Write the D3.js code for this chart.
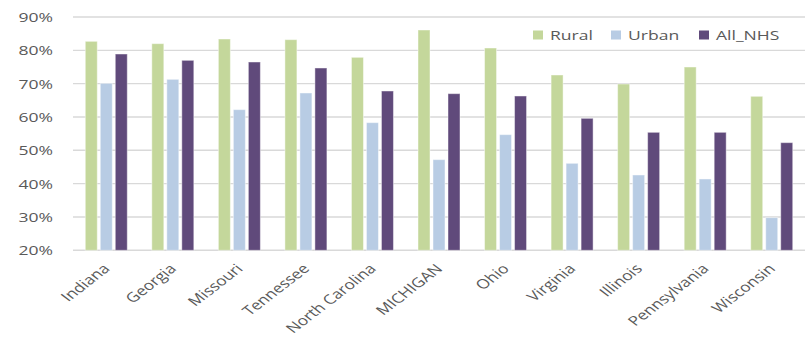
<!DOCTYPE html>
<html>
<head>
<meta charset="utf-8">
<script src="https://cdnjs.cloudflare.com/ajax/libs/d3/7.8.5/d3.min.js"></script>
<style>
  html, body { margin: 0; padding: 0; background: #fff; }
  svg { display: block; }
  text { font-family: "Open Sans", "Noto Sans", sans-serif; fill: #595959; }
</style>
</head>
<body>
<svg id="chart" width="809" height="341"></svg>
<script>
// States, in display order
const states = ["Indiana", "Georgia", "Missouri", "Tennessee", "North Carolina",
  "MICHIGAN", "Ohio", "Virginia", "Illinois", "Pennsylvania", "Wisconsin"];

// Share of each group, per state
const rural  = [0.827, 0.820, 0.834, 0.832, 0.779, 0.861, 0.807, 0.726, 0.699, 0.750, 0.662];
const urban  = [0.701, 0.713, 0.622, 0.672, 0.583, 0.472, 0.547, 0.461, 0.426, 0.414, 0.298];
const allNhs = [0.789, 0.770, 0.765, 0.747, 0.678, 0.670, 0.663, 0.596, 0.554, 0.554, 0.523];

const seriesNames = ["Rural", "Urban", "All_NHS"];
const seriesValues = [rural, urban, allNhs];
const seriesColors = ["#c4d79b", "#b8cce4", "#604a7b"];

const yTicks = [0.2, 0.3, 0.4, 0.5, 0.6, 0.7, 0.8, 0.9];

const svg = d3.select("#chart");
const plot = { left: 73, right: 805, top: 17, bottom: 250.3 };
const sx = 1.3; // horizontal text stretch

const x = d3.scaleBand().domain(states).range([plot.left, plot.right]).padding(0);
const inner = d3.scaleBand().domain(seriesNames).range([0, 42]).paddingInner(0.2);
const y = d3.scaleLinear().domain([0.2, 0.9]).range([plot.bottom, plot.top]);

// Horizontal gridlines
svg.append("g").selectAll("line")
  .data(yTicks)
  .join("line")
  .attr("x1", plot.left).attr("x2", plot.right)
  .attr("y1", d => y(d)).attr("y2", d => y(d))
  .attr("stroke", "#d9d9d9").attr("stroke-width", 1.4);

// Y tick labels
svg.append("g").selectAll("text")
  .data(yTicks)
  .join("text")
  .attr("transform", d => `translate(53,${y(d)}) scale(${sx},1)`)
  .attr("text-anchor", "end")
  .attr("dy", "0.36em")
  .style("font-size", "13.5px")
  .text(d3.format(".0%"));

// Bars
const rows = [];
states.forEach((s, i) => {
  seriesNames.forEach((n, j) => rows.push({ state: s, series: n, value: seriesValues[j][i], color: seriesColors[j] }));
});

svg.append("g").selectAll("rect")
  .data(rows)
  .join("rect")
  .attr("x", d => x(d.state) + x.bandwidth() / 2 - 21 + inner(d.series))
  .attr("width", inner.bandwidth())
  .attr("y", d => y(d.value))
  .attr("height", d => y(0.2) - y(d.value))
  .attr("fill", d => d.color)
  .attr("stroke", "rgba(255,255,255,0.45)")
  .attr("stroke-width", 1);

// Category labels, rotated
svg.append("g").selectAll("text")
  .data(states)
  .join("text")
  .attr("transform", d => `translate(${x(d) + x.bandwidth() / 2 - 4},${263}) scale(${sx},1) rotate(-45)`)
  .attr("text-anchor", "end")
  .attr("dy", "0.7em")
  .style("font-size", "13.3px")
  .text(d => d);

// Legend
const legendX = [533, 611, 699];
const legend = svg.append("g").selectAll("g")
  .data(seriesNames)
  .join("g")
  .attr("transform", (d, i) => `translate(${legendX[i]},35)`);
legend.append("rect")
  .attr("x", 0).attr("y", -4.5)
  .attr("width", 10).attr("height", 9)
  .attr("fill", (d, i) => seriesColors[i]);
legend.append("text")
  .attr("transform", `translate(17,0) scale(${sx},1)`)
  .attr("dy", "0.36em")
  .style("font-size", "13.5px")
  .text(d => d);
</script>
</body>
</html>
